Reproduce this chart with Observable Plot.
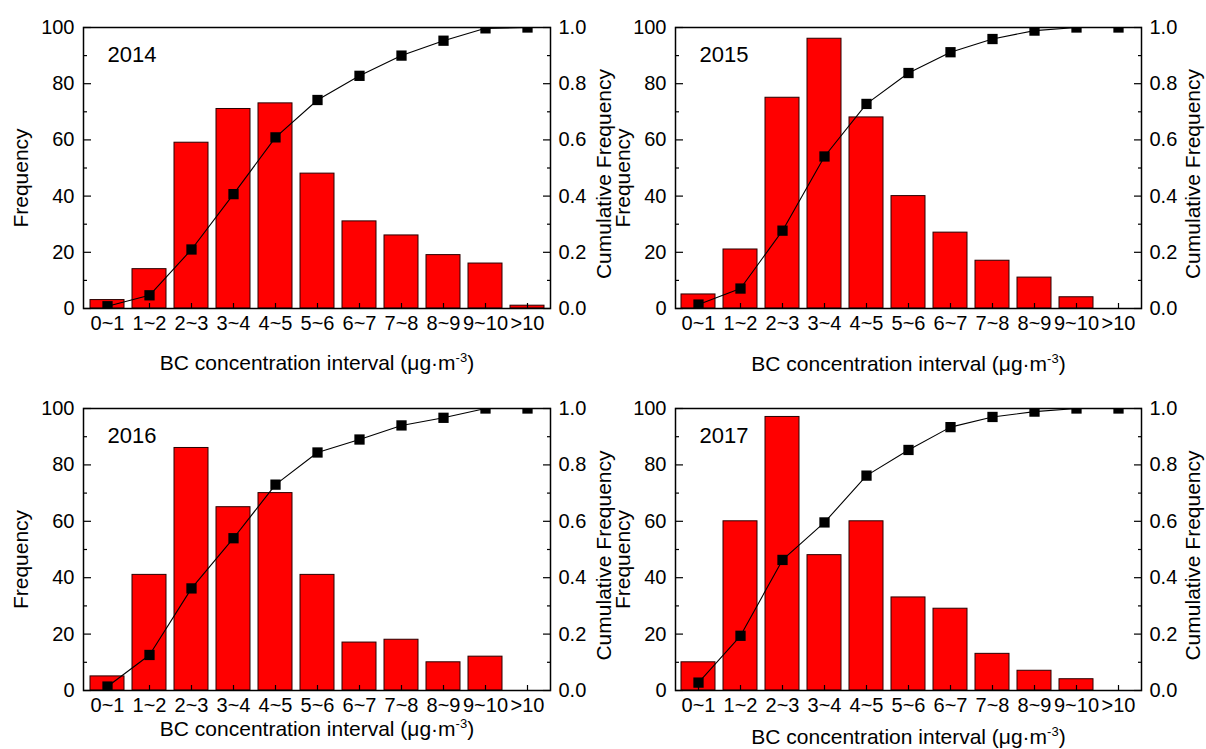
<!DOCTYPE html>
<html><head><meta charset="utf-8">
<script src="https://cdn.jsdelivr.net/npm/d3@7"></script>
<script src="https://cdn.jsdelivr.net/npm/@observablehq/plot@0.6"></script>
<style>
html,body{margin:0;padding:0;background:#fff;}
#wrap{position:relative;width:1206px;height:749px;overflow:hidden;background:#fff;}
#wrap svg{position:absolute;}
</style></head><body><div id="wrap"></div>
<script>
const categories = ["0~1","1~2","2~3","3~4","4~5","5~6","6~7","7~8","8~9","9~10",">10"];
const years = ["2014","2015","2016","2017"];
const freq2014 = [3, 14, 59, 71, 73, 48, 31, 26, 19, 16, 1];
const cum2014  = [0.008, 0.047, 0.21, 0.407, 0.609, 0.742, 0.828, 0.90, 0.953, 0.997, 1.0];
const freq2015 = [5, 21, 75, 96, 68, 40, 27, 17, 11, 4, 0];
const cum2015  = [0.014, 0.071, 0.277, 0.541, 0.728, 0.838, 0.912, 0.959, 0.989, 1.0, 1.0];
const freq2016 = [5, 41, 86, 65, 70, 41, 17, 18, 10, 12, 0];
const cum2016  = [0.014, 0.126, 0.362, 0.54, 0.73, 0.844, 0.89, 0.94, 0.967, 1.0, 1.0];
const freq2017 = [10, 60, 97, 48, 60, 33, 29, 13, 7, 4, 0];
const cum2017  = [0.028, 0.194, 0.463, 0.596, 0.762, 0.853, 0.934, 0.97, 0.989, 1.0, 1.0];
const freqTicks = [0, 20, 40, 60, 80, 100];
const minorTicks = [10, 30, 50, 70, 90];
const yLabel = "Frequency";
const y2Label = "Cumulative Frequency";
const xTitle = "BC concentration interval (μg·m-3)";

const layouts = [
  {left: 0,   top: 0,   w: 620, h: 380, ml: 83, pw: 467, mt: 27, ph: 281, fdx: -62, cdx: 54, tdy: 55},
  {left: 592, top: 0,   w: 620, h: 380, ml: 83, pw: 466, mt: 27, ph: 281, fdx: -52, cdx: 52, tdy: 56},
  {left: 0,   top: 380, w: 620, h: 369, ml: 83, pw: 467, mt: 28, ph: 282, fdx: -62, cdx: 54, tdy: 39},
  {left: 592, top: 380, w: 620, h: 369, ml: 83, pw: 466, mt: 28, ph: 282, fdx: -52, cdx: 52, tdy: 47}
];
const series = [[freq2014, cum2014], [freq2015, cum2015], [freq2016, cum2016], [freq2017, cum2017]];
const font = "'Liberation Sans', Arial, sans-serif";

function panel(year, freq, cum, L) {
  const rows = categories.map((c, i) => ({cat: c, freq: freq[i], cum: cum[i]}));
  const svg = Plot.plot({
    width: L.w, height: L.h,
    marginLeft: L.ml, marginRight: L.w - L.ml - L.pw,
    marginTop: L.mt, marginBottom: L.h - L.mt - L.ph,
    style: {fontFamily: font, fontSize: "20px", background: "transparent", color: "black", overflow: "visible", maxWidth: "none"},
    x: {type: "band", domain: categories, paddingInner: 0.2, paddingOuter: 0.1},
    y: {domain: [0, 100]},
    marks: [
      Plot.barY(rows, {x: "cat", y: "freq", fill: "#ff0000", stroke: "#2a0000", strokeWidth: 1}),
      Plot.line(rows, {x: "cat", y: d => d.cum * 100, stroke: "black", strokeWidth: 1.1}),
      Plot.dot(rows, {x: "cat", y: d => d.cum * 100, symbol: "square", r: 5.8, fill: "black", stroke: "none", clip: true}),
      Plot.frame({stroke: "black", strokeWidth: 1.5}),
      Plot.axisY(freqTicks, {tickSize: 0, tickPadding: 9, label: null}),
      Plot.axisY(freqTicks, {tickSize: -8, fill: "none", label: null, strokeWidth: 1.2}),
      Plot.axisY(minorTicks, {tickSize: -4, fill: "none", label: null, strokeWidth: 1.2}),
      Plot.axisY(freqTicks, {anchor: "right", tickSize: 0, tickPadding: 8, tickFormat: d => (d / 100).toFixed(1), label: null}),
      Plot.axisY(freqTicks, {anchor: "right", tickSize: -8, fill: "none", label: null, strokeWidth: 1.2}),
      Plot.axisY(minorTicks, {anchor: "right", tickSize: -4, fill: "none", label: null, strokeWidth: 1.2}),
      Plot.axisX({anchor: "bottom", tickSize: 0, tickPadding: 7, label: null}),
      Plot.axisX({anchor: "bottom", tickSize: -5, fill: "none", label: null, strokeWidth: 1.2}),
      Plot.text([year], {frameAnchor: "top-left", dx: 24, dy: 27, text: d => d, fontSize: 22, textAnchor: "start", lineAnchor: "middle"}),
      Plot.text([yLabel], {frameAnchor: "left", dx: L.fdx, dy: 10, rotate: -90, text: d => d, fontSize: 21, textAnchor: "middle", lineAnchor: "middle"}),
      Plot.text([y2Label], {frameAnchor: "right", dx: L.cdx, dy: 6, rotate: -90, text: d => d, fontSize: 21, textAnchor: "middle", lineAnchor: "middle"}),
      Plot.text([xTitle], {frameAnchor: "bottom", dy: L.tdy, text: d => d, fontSize: 21, textAnchor: "middle", lineAnchor: "middle"})
    ]
  });
  svg.style.left = L.left + "px";
  svg.style.top = L.top + "px";
  // superscript for the unit
  const NS = "http://www.w3.org/2000/svg";
  svg.querySelectorAll("text").forEach(t => {
    if (t.textContent === xTitle) {
      t.textContent = "";
      t.appendChild(document.createTextNode("BC concentration interval (μg·m"));
      const sup = document.createElementNS(NS, "tspan");
      sup.setAttribute("dy", "-8");
      sup.setAttribute("font-size", "13");
      sup.textContent = "-3";
      t.appendChild(sup);
      const close = document.createElementNS(NS, "tspan");
      close.setAttribute("dy", "8");
      close.textContent = ")";
      t.appendChild(close);
    }
  });
  return svg;
}

const wrap = document.getElementById("wrap");
years.forEach((yr, i) => {
  wrap.appendChild(panel(yr, series[i][0], series[i][1], layouts[i]));
});
</script>
</body></html>
